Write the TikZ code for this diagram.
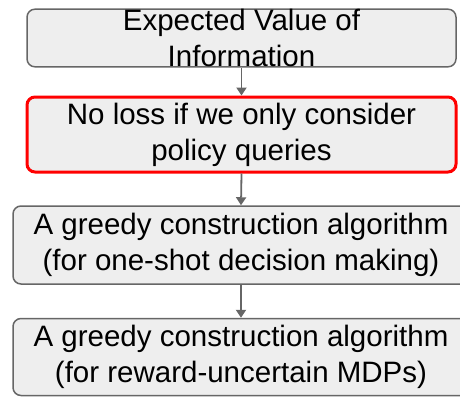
\documentclass[tikz,border=0pt]{standalone}
\usepackage{fontspec}
\setmainfont{Liberation Sans}
\definecolor{boxgray}{RGB}{238, 238, 238}
\definecolor{linegray}{RGB}{102, 102, 102}
\definecolor{hired}{RGB}{255, 0, 0}
\usetikzlibrary{arrows.meta, positioning, calc}

\begin{document}
\begin{tikzpicture}[x=1pt, y=-1pt,
    stepbox/.style={draw=linegray, fill=boxgray, line width=1.5pt, rounded corners=8pt,
      align=center, inner sep=0pt, font=\fontsize{29.5}{36}\selectfont},
    flow/.style={draw=linegray, line width=1.8pt, -{Triangle[width=10pt, length=8pt]}}]
  \useasboundingbox (0,0) rectangle (460,396);
  % the four steps, top to bottom
  \node[stepbox, minimum width=429pt, minimum height=56pt] (evoi) at (241.5,38) {Expected Value of\\Information};
  \node[stepbox, draw=hired, line width=3pt, minimum width=429pt, minimum height=75pt] (noloss) at (241.5,134.5) {No loss if we only consider\\policy queries};
  \node[stepbox, minimum width=456pt, minimum height=78pt] (oneshot) at (241,245) {A greedy construction algorithm\\(for one-shot decision making)};
  \node[stepbox, minimum width=456pt, minimum height=77pt] (mdp) at (241,357) {A greedy construction algorithm\\(for reward-uncertain MDPs)};
  % connectors
  \draw[flow] (evoi.south) -- (noloss.north);
  \draw[flow] (noloss.south) -- (oneshot.north);
  \draw[flow] (oneshot.south) -- (mdp.north);
\end{tikzpicture}
\end{document}
